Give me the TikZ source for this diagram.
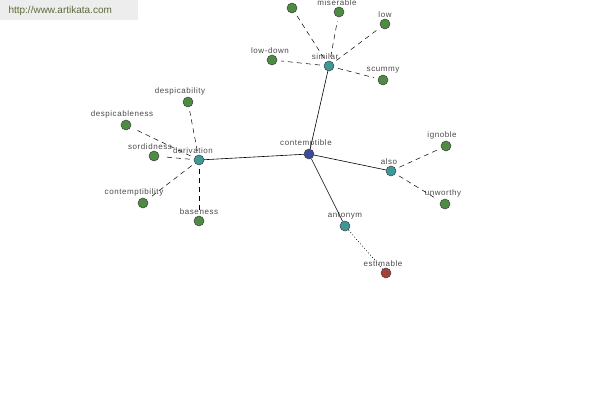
\documentclass[tikz,border=0pt]{standalone}
\usepackage{fontspec}
\setmainfont{Liberation Sans}
\newfontfamily\labelfont[LetterSpace=7]{Liberation Sans}
\usepackage{tikz}
\usetikzlibrary{arrows.meta,positioning}

\definecolor{leafgreen}{HTML}{4E8C44}
\definecolor{relteal}{HTML}{3F9898}
\definecolor{rootblue}{HTML}{3D4A9C}
\definecolor{antired}{HTML}{A2423A}
\definecolor{labelgray}{HTML}{4A4A4A}
\definecolor{siteolive}{HTML}{5C6B3A}

\begin{document}
\begin{tikzpicture}[x=1pt, y=-1pt, font=\labelfont\fontsize{8}{9}\selectfont,
  dot/.style={circle, draw=black!75, line width=0.5pt, minimum size=10pt, inner sep=0pt},
  root/.style={dot, fill=rootblue},
  rel/.style={dot, fill=relteal},
  leaf/.style={dot, fill=leafgreen},
  anti/.style={dot, fill=antired},
  lbl/.style={text=labelgray, inner sep=1pt},
  link/.style={line width=0.6pt},
  syn/.style={line width=0.5pt, dash pattern=on 5pt off 4pt, shorten <=4pt, shorten >=4pt},
  opp/.style={line width=0.5pt, dash pattern=on 1pt off 2pt}]
\useasboundingbox (0,0) rectangle (600,400);
\fill[black!7] (0,0) rectangle (138,20);
\node[text=siteolive, font=\fontsize{10}{11}\selectfont, anchor=west] (site) at (5,11) {http://www.artikata.com};
% centre and relations
\node[root, label={[lbl, xshift=-3pt]above:contemptible}] (contemptible) at (309,154) {};
\node[rel, label={[lbl, xshift=-4pt]above:similar}] (similar) at (329,66) {};
\node[rel, label={[lbl, xshift=-6pt]above:derivation}] (derivation) at (199,160) {};
\node[rel, label={[lbl, xshift=-2pt]above:also}] (also) at (391,171) {};
\node[rel, label={[lbl]above:antonym}] (antonym) at (345,226) {};
% similar
\node[leaf] (top) at (292,8) {};
\node[leaf, label={[lbl, xshift=-2pt]above:miserable}] (miserable) at (339,12) {};
\node[leaf, label={[lbl]above:low}] (low) at (385,24) {};
\node[leaf, label={[lbl, xshift=-2pt]above:low-down}] (lowdown) at (272,60) {};
\node[leaf, label={[lbl]above:scummy}] (scummy) at (383,80) {};
% derivation
\node[leaf, label={[lbl, xshift=-8pt]above:despicability}] (despicability) at (188,102) {};
\node[leaf, label={[lbl, xshift=-4pt]above:despicableness}] (despicableness) at (126,125) {};
\node[leaf, label={[lbl, xshift=-4pt]above:sordidness}] (sordidness) at (154,156) {};
\node[leaf, label={[lbl, xshift=-9pt]above:contemptibility}] (contemptibility) at (143,203) {};
\node[leaf, label={[lbl]above:baseness}] (baseness) at (199,221) {};
% also
\node[leaf, label={[lbl, xshift=-4pt]above:ignoble}] (ignoble) at (446,146) {};
\node[leaf, label={[lbl, xshift=-2pt]above:unworthy}] (unworthy) at (445,204) {};
% antonym
\node[anti, label={[lbl, xshift=-3pt]above:estimable}] (estimable) at (386,273) {};
\draw[link] (contemptible) -- (similar);
\draw[link] (contemptible) -- (derivation);
\draw[link] (contemptible) -- (also);
\draw[link] (contemptible) -- (antonym);
\foreach \leafname in {top, miserable, low, lowdown, scummy}
  \draw[syn] (similar) -- (\leafname);
\foreach \leafname in {despicability, despicableness, sordidness, contemptibility, baseness}
  \draw[syn] (derivation) -- (\leafname);
\foreach \leafname in {ignoble, unworthy}
  \draw[syn] (also) -- (\leafname);
\draw[opp] (antonym) -- (estimable);
\end{tikzpicture}
\end{document}
